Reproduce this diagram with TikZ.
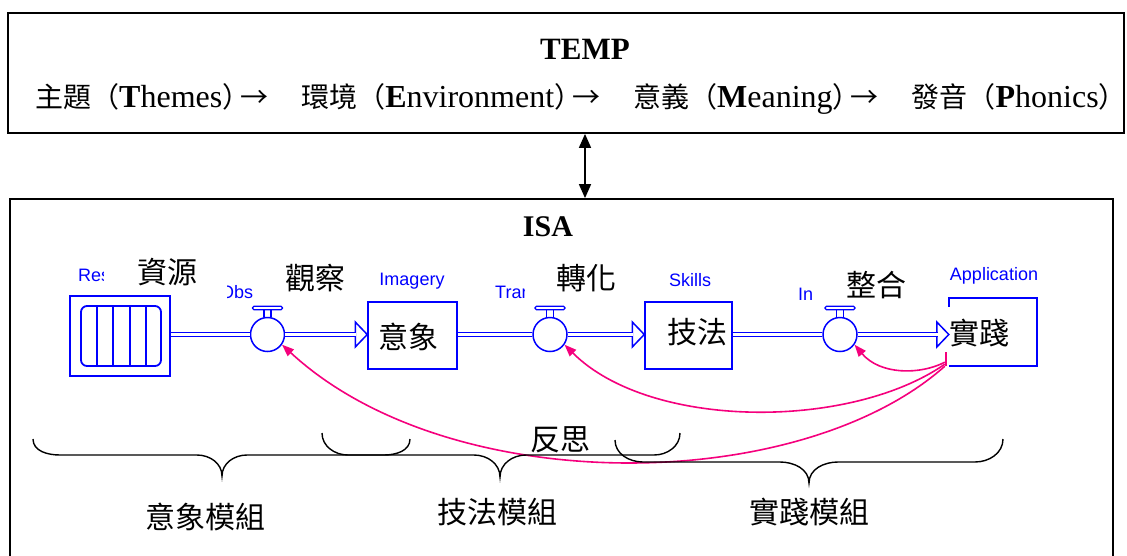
\documentclass[tikz,border=0pt]{standalone}
\usepackage{fontspec}
\setmainfont{Liberation Serif}
\newfontfamily\cjk{Noto Sans CJK TC}
\newfontfamily\lab{Liberation Sans}
\usetikzlibrary{arrows.meta,calc}
\definecolor{flowblue}{RGB}{0,0,255}
\definecolor{flowpink}{RGB}{245,0,125}
\newcommand\cj[1]{{\cjk\fontsize{28}{32}\selectfont #1}}
\newcommand\tarr{\kern-10pt\cj{→}\hspace{33pt}}
\begin{document}
\begin{tikzpicture}[x=1pt,y=-1pt,
 frame/.style={draw=black,line width=1.8pt,rectangle,inner sep=0pt},
 blueline/.style={draw=flowblue,line width=1.5pt},
 boxnode/.style={blueline,rectangle,minimum width=88pt,minimum height=67pt,inner sep=0pt},
 valve/.style={blueline,circle,minimum size=34pt,inner sep=0pt,fill=white},
 pipe/.style={draw=flowblue,line width=1.3pt,double=white,double distance=2.6pt},
 bluelab/.style={font=\lab\fontsize{18}{20}\selectfont,text=flowblue,inner sep=0pt,anchor=west},
 cjklab/.style={font=\cjk\fontsize{30}{34}\selectfont,inner sep=0pt},
 feedback/.style={draw=flowpink,line width=1.6pt,-{Triangle[length=12pt,width=9pt]}},
 brace/.style={draw=black,line width=1.4pt},
 title/.style={font=\bfseries\fontsize{31}{34}\selectfont,inner sep=0pt},
]
\useasboundingbox (0,0) rectangle (1127,555);
\fill[white] (0,0) rectangle (1127,555);
\clip (0,0) rectangle (1127,555);

% frames
\node[frame,minimum width=1116pt,minimum height=120pt] (temp) at (566,73) {};
\node[frame,minimum width=1103pt,minimum height=380pt] (isa) at (561.5,389) {};
\coordinate (ax) at (585,0);
\draw[line width=1.6pt,{Triangle[length=14pt,width=12pt]}-{Triangle[length=14pt,width=12pt]}]
  (ax |- temp.south) -- (ax |- isa.north);

\node[title] (temptitle) at (585,49) {TEMP};
\node[font=\fontsize{32}{34}\selectfont,inner sep=0pt,anchor=base west] (tline) at (35,107)
 {\cj{主題（}\textbf{T}hemes\cj{）}\tarr\cj{環境（}\textbf{E}nvironment\cj{）}\tarr\cj{意義（}\textbf{M}eaning\cj{）}\tarr\cj{發音（}\textbf{P}honics\cj{）}};
\node[title,font=\bfseries\fontsize{30}{34}\selectfont] (isatitle) at (548,227) {ISA};

% stocks and valves
\node[boxnode,minimum width=100pt,minimum height=80pt] (res) at (120,336) {};
\draw[blueline,line width=1.8pt,rounded corners=6pt] (81,306) rectangle (161,366);
\foreach \x in {97,113,130,146} \draw[blueline,line width=1.8pt] (\x,306) -- (\x,366);

\node[boxnode,minimum width=89pt] (img) at (412.5,335.5) {};
\node[boxnode,minimum width=87pt] (sk) at (688.5,335.5) {};
\node[rectangle,minimum width=88pt,minimum height=68pt,inner sep=0pt] (app) at (993,332) {};
\draw[blueline] ($(app.north west)+(0,9)$) -- (app.north west) -- (app.north east) -- (app.south east) -- (app.south west);

\node[valve] (v1) at (267.5,334.5) {};
\node[valve] (v2) at (550,334.5) {};
\node[valve] (v3) at (840,334.5) {};

\draw[pipe] (res.east |- v1.west) -- (v1.west);
\draw[pipe] (img.east |- v2.west) -- (v2.west);
\draw[pipe] (sk.east |- v3.west) -- (v3.west);
\foreach \v/\b in {v1/img,v2/sk,v3/app} {
  \draw[blueline,fill=white,line join=miter] ($(\b.west |- \v.center)+(-12,-12.5)$) -- (\b.west |- \v.center) -- ($(\b.west |- \v.center)+(-12,12.5)$) -- cycle;
  \draw[pipe] (\v.east) -- ($(\b.west |- \v.center)+(-11.2,0)$);
  \draw[blueline,line width=1.3pt] ($(\v.north)+(-3.5,0)$) -- ($(\v.north)+(-3.5,-7)$) ($(\v.north)+(3.5,0)$) -- ($(\v.north)+(3.5,-7)$);
  \draw[blueline,line width=1.3pt,rounded corners=1.5pt] ($(\v.north)+(-15,-7)$) rectangle ($(\v.north)+(15,-10.5)$);
}

% labels
\begin{scope}\clip (70,260) rectangle (103.5,290); \node[bluelab] (tres) at (78,275) {Res};\end{scope}
\begin{scope}\clip (227,280) rectangle (253,305); \node[bluelab] (tobs) at (220,292) {Obs};\end{scope}
\begin{scope}\clip (490,280) rectangle (524,305); \node[bluelab] (ttra) at (495,292) {Tran};\end{scope}
\begin{scope}\clip (795,282) rectangle (812.5,305); \node[bluelab] (tint) at (798,294) {In};\end{scope}
\node[bluelab,anchor=center] (timg) at (412,281) {Imagery};
\node[bluelab,anchor=center] (tsk) at (690,280) {Skills};
\node[bluelab,anchor=center] (tapp) at (994,276) {Application};

\node[cjklab] (lres) at (167,272) {資源};
\node[cjklab] (lobs) at (315,278) {觀察};
\node[cjklab] (ltra) at (586,278) {轉化};
\node[cjklab] (lint) at (876,285) {整合};
\node[cjklab] (limg) at (408,337) {意象};
\node[cjklab] (lsk) at (697,332) {技法};
\node[cjklab] (lapp) at (979,333) {實踐};
\node[cjklab] (lref) at (560,440) {反思};

% feedback connectors
\draw[draw=flowpink,line width=2pt] ($(app.south west)+(-3,-14)$) -- ($(app.south west)+(-3,0)$);
\draw[feedback] ($(app.south west)+(-4,-4)$) .. controls (920,375) and (880,375) .. (v3.-35);
\draw[feedback] ($(app.south west)+(-4,-2)$) .. controls (850,430) and (650,430) .. (v2.-35);
\draw[feedback] ($(app.south west)+(-4,0)$) .. controls (800,495) and (450,500) .. (v1.-35);

% braces
\draw[brace] (33,439) to[out=-90,in=180] (60,455) -- (197,455) to[out=0,in=90] (222,476)
  to[out=90,in=180] (247,455) -- (384,455) to[out=0,in=-90] (410,439);
\draw[brace] (322,433) to[out=-90,in=180] (348,455) -- (474,455) to[out=0,in=90] (500,477)
  to[out=90,in=180] (526,455) -- (654,455) to[out=0,in=-90] (680,433);
\draw[brace] (615,440) to[out=-90,in=180] (643,462) -- (780,462) to[out=0,in=90] (809,483)
  to[out=90,in=180] (838,462) -- (975,462) to[out=0,in=-90] (1003,439);

\node[cjklab] (m1) at (205,517) {意象模組};
\node[cjklab] (m2) at (497,512) {技法模組};
\node[cjklab] (m3) at (809,512) {實踐模組};
\end{tikzpicture}
\end{document}
